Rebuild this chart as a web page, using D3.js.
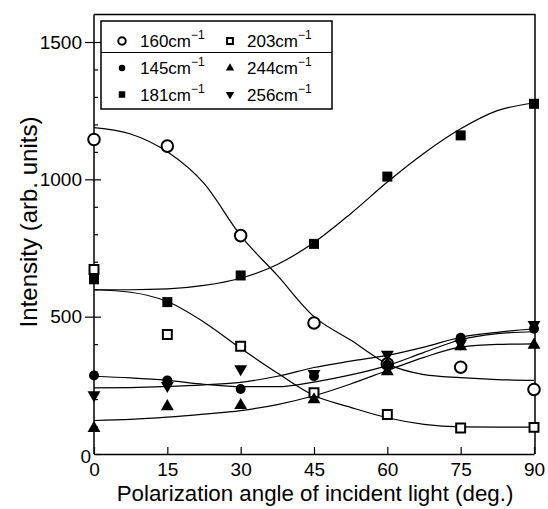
<!DOCTYPE html>
<html>
<head>
<meta charset="utf-8">
<script src="https://cdn.jsdelivr.net/npm/d3@7"></script>
<style>
  body { margin: 0; background: #fff; }
  svg { font-family: "Liberation Sans", Arial, sans-serif; }
</style>
</head>
<body>
<svg id="chart" width="548" height="509"></svg>
<script>
// measured angles
const angles = [0, 15, 30, 45, 60, 75, 90];
const fitAngles = [0, 7.5, 15, 22.5, 30, 37.5, 45, 52.5, 60, 67.5, 75, 82.5, 90];

const yTicks = [0, 500, 1000, 1500];
const yMinorTicks = [100, 200, 300, 400, 600, 700, 800, 900, 1100, 1200, 1300, 1400];

// data points (arb. units)
const pts160 = [1145, 1121, 795, 477, 328, 316, 235];
const pts145 = [286, 268, 237, 283, 325, 423, 456];
const pts181 = [636, 553, 650, 765, 1010, 1160, 1275];
const pts203 = [672, 435, 392, 223, 144, 95, 97];
const pts244 = [94, 173, 177, 198, 300, 391, 397];
const pts256 = [215, 249, 310, 292, 362, 403, 471];

// fitted curves, read at fitAngles
const fit160 = [1188, 1165, 1100, 985, 795, 650, 500, 415, 328, 289, 278, 271, 268];
const fit145 = [283, 277, 268, 254, 245, 245, 262, 288, 322, 370, 416, 438, 445];
const fit181 = [598, 598, 601, 614, 640, 690, 770, 875, 990, 1095, 1184, 1250, 1278];
const fit203 = [598, 589, 555, 480, 385, 295, 213, 170, 132, 108, 99, 98, 98];
const fit244 = [122, 126, 134, 145, 158, 180, 212, 255, 304, 352, 389, 399, 401];
const fit256 = [241, 242, 246, 252, 261, 283, 315, 338, 359, 389, 425, 443, 456];

const legendLabels = ["160", "203", "145", "244", "181", "256"];

const series = [
  { label: "160", pts: pts160, fit: fit160, shape: "openCircle" },
  { label: "145", pts: pts145, fit: fit145, shape: "dot" },
  { label: "181", pts: pts181, fit: fit181, shape: "square" },
  { label: "203", pts: pts203, fit: fit203, shape: "openSquare" },
  { label: "244", pts: pts244, fit: fit244, shape: "triUp" },
  { label: "256", pts: pts256, fit: fit256, shape: "triDown" },
];

const svg = d3.select("#chart");

const x = d3.scaleLinear().domain([0, 90]).range([94, 534]);
const y = d3.scaleLinear().domain([0, 1500]).range([454, 42]);
const yTop = y(1600);

// marker drawing
function marker(sel, shape, small) {
  const k = small ? 0.65 : 1;
  let gen, fill = "#000", stroke = "none", sw = 0, rot = 0;
  if (shape === "openCircle") {
    gen = d3.symbol(d3.symbolCircle, 105 * k * k); fill = "#fff"; stroke = "#000"; sw = 2;
  } else if (shape === "dot") {
    gen = d3.symbol(d3.symbolCircle, 78 * k * k);
  } else if (shape === "square") {
    gen = d3.symbol(d3.symbolSquare, 100 * k * k);
  } else if (shape === "openSquare") {
    gen = d3.symbol(d3.symbolSquare, 80 * k * k); fill = "#fff"; stroke = "#000"; sw = 2;
  } else if (shape === "triUp") {
    gen = d3.symbol(d3.symbolTriangle, 72 * k * k);
  } else {
    gen = d3.symbol(d3.symbolTriangle, 72 * k * k); rot = 180;
  }
  sel.append("path")
    .attr("d", gen)
    .attr("transform", rot ? `rotate(${rot})` : null)
    .attr("fill", fill)
    .attr("stroke", stroke)
    .attr("stroke-width", sw);
}

// frame (top and right sides)
svg.append("path")
  .attr("d", `M${x(0)},${yTop}H${x(90) + 1}V${y(0)}`)
  .attr("fill", "none")
  .attr("stroke", "#000")
  .attr("stroke-width", 1.5);

// axes
svg.append("g")
  .attr("transform", `translate(0,${y(0)})`)
  .call(d3.axisBottom(x).tickValues(angles).tickSizeInner(-7).tickSizeOuter(0).tickPadding(9));

const yAxis = svg.append("g")
  .attr("transform", `translate(${x(0)},0)`)
  .call(d3.axisLeft(y).tickValues(yTicks).tickFormat(d3.format("d"))
    .tickSizeInner(-7).tickSizeOuter(0).tickPadding(12));

// major y ticks also stick out to the left
yAxis.selectAll(".tick").filter(d => d !== 0)
  .append("line").attr("x1", -9).attr("x2", 0).attr("stroke", "#000").attr("stroke-width", 1.2);

svg.append("g")
  .attr("transform", `translate(${x(0)},0)`)
  .call(d3.axisLeft(y).tickValues(yMinorTicks).tickSize(-4).tickFormat(""))
  .call(g => g.select(".domain").remove());

svg.selectAll(".domain").attr("stroke-width", 1.5);
svg.selectAll(".tick line").attr("stroke-width", 1.2);
svg.selectAll(".tick text").attr("font-size", 19).attr("font-family", "Liberation Sans, Arial, sans-serif").attr("fill", "#000");

// y axis: extend to top of frame
yAxis.select(".domain").attr("d", `M0,${y(0)}V${yTop}`);
// "0" on the y axis sits a little lower and to the right
yAxis.selectAll(".tick").filter(d => d === 0).select("text")
  .attr("x", -3).attr("dy", "0.45em");

// axis titles
svg.append("text")
  .attr("x", 315)
  .attr("y", 501)
  .attr("text-anchor", "middle")
  .attr("font-size", 22.3)
  .text("Polarization angle of incident light (deg.)");

svg.append("text")
  .attr("transform", "translate(37,222) rotate(-90)")
  .attr("text-anchor", "middle")
  .attr("font-size", 24)
  .text("Intensity (arb. units)");

// fitted curves
const line = d3.line()
  .x((d, i) => x(fitAngles[i]))
  .y(d => y(d))
  .curve(d3.curveMonotoneX);

const plot = svg.append("g");

series.forEach(s => {
  plot.append("path")
    .attr("d", line(s.fit))
    .attr("fill", "none")
    .attr("stroke", "#000")
    .attr("stroke-width", 1.2);
});

// markers
series.forEach(s => {
  s.pts.forEach((v, i) => {
    const g = plot.append("g").attr("transform", `translate(${x(angles[i])},${y(v)})`);
    marker(g, s.shape, false);
  });
});

// legend
const legend = svg.append("g");
legend.append("rect")
  .attr("x", 101).attr("y", 21).attr("width", 231).attr("height", 88)
  .attr("fill", "#fff").attr("stroke", "#000").attr("stroke-width", 1.5);
legend.append("line")
  .attr("x1", 101).attr("x2", 332).attr("y1", 52.5).attr("y2", 52.5)
  .attr("stroke", "#000").attr("stroke-width", 1.2);

const legendShapes = { "160": "openCircle", "203": "openSquare", "145": "dot", "244": "triUp", "181": "square", "256": "triDown" };
const rowY = [41, 68, 94.5];
const colSym = [122, 230];
const colText = [140, 247];

legendLabels.forEach((lab, i) => {
  const row = Math.floor(i / 2), col = i % 2;
  const g = legend.append("g").attr("transform", `translate(${colSym[col]},${rowY[row]})`);
  marker(g, legendShapes[lab], true);
  const t = legend.append("text")
    .attr("x", colText[col])
    .attr("y", rowY[row] + 6)
    .attr("font-size", 17);
  t.append("tspan").text(lab + "cm");
  t.append("tspan").attr("dy", -8).attr("font-size", 12).text("\u22121");
});
</script>
</body>
</html>
